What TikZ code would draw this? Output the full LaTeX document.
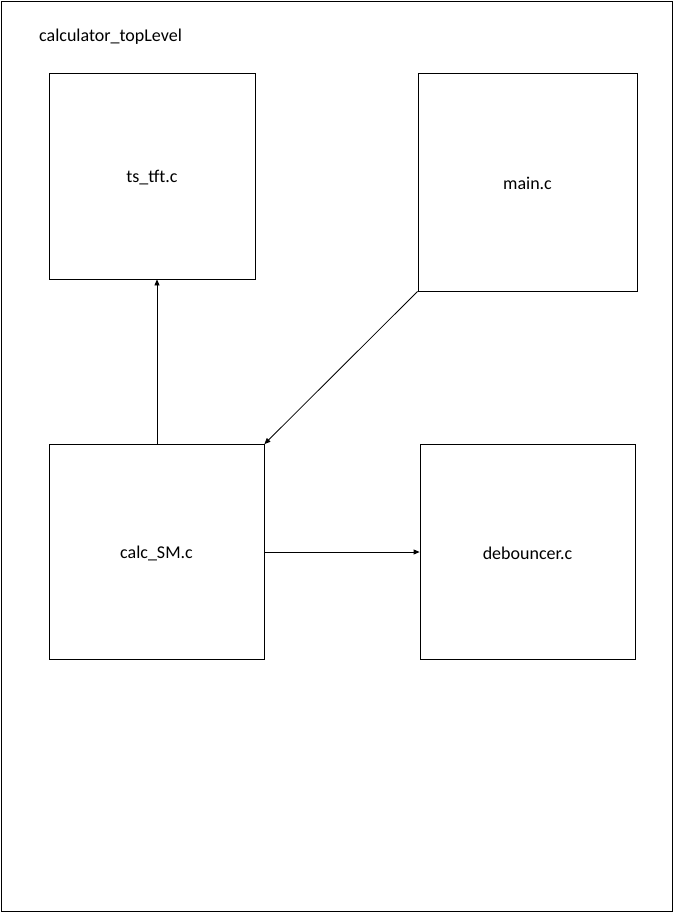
\documentclass[tikz,border=0pt]{standalone}
\usepackage{fontspec}
\setmainfont{Carlito}
\usetikzlibrary{arrows.meta}
\begin{document}
\begin{tikzpicture}[x=1pt,y=-1pt,
  module/.style={draw=black, line width=0.8pt, inner sep=0pt},
  label/.style={font=\fontsize{18}{20}\selectfont, inner sep=0pt},
  link/.style={draw=black, line width=0.8pt, -{Triangle[length=6pt,width=5pt]}}]
  \useasboundingbox (0,0) rectangle (673,913);
  % outer frame
  \draw[line width=0.9pt] (1,1) rectangle (672,911);
  \node[label, anchor=west] (title) at (39,37) {calculator\_topLevel};
  % module boxes
  \node[module, minimum width=206pt, minimum height=206pt] (tft) at (152,176) {};
  \node[label] (tftlabel) at ([yshift=-2pt]tft.center) {ts\_tft.c};
  \node[module, minimum width=219pt, minimum height=218pt] (main) at (527.5,182) {};
  \node[label] (mainlabel) at ([yshift=-1pt]main.center) {main.c};
  \node[module, minimum width=215pt, minimum height=215pt] (calc) at (156.5,552) {};
  \node[label] (calclabel) at ([yshift=-1.5pt]calc.center) {calc\_SM.c};
  \node[module, minimum width=215pt, minimum height=215pt] (deb) at (527.5,552) {};
  \node[label] (deblabel) at ([yshift=-1.5pt]deb.center) {debouncer.c};
  % connectors
  \coordinate (calcTop) at (157,444.5);
  \draw[link] (calcTop) -- (calcTop |- tft.south);
  \draw[link] (main.south west) -- (calc.north east);
  \draw[link] (calc.east) -- (deb.west);
\end{tikzpicture}
\end{document}
